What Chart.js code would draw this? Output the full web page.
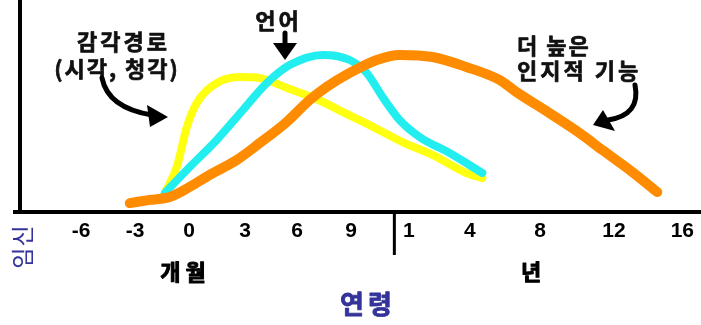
<!DOCTYPE html>
<html>
<head>
<meta charset="utf-8">
<script src="https://cdn.jsdelivr.net/npm/chart.js@4"></script>
<style>
    html, body { margin: 0; padding: 0; background: #ffffff; }
    #wrap { width: 701px; height: 325px; }
</style>
</head>
<body>
<div id="wrap"><canvas id="devChart" width="701" height="325"></canvas></div>
<script>
// x axis is in "month-equivalent" units, years squeezed in after the divider
var tickPos = [-6, -3, 0, 3.1, 6, 9, 12.2, 15.6, 19.5, 23.6, 27.4];
var tickLabels = ['-6', '-3', '0', '3', '6', '9', '1', '4', '8', '12', '16'];
var dividerAt = 11.4;

// 감각경로 (시각, 청각)
var sensoryX = [-1.35, -0.69, -0.13, 0.42, 1.53, 2.81, 3.92, 5.58, 7.08, 8.52, 10.02, 11.85, 13.52, 15.4, 16.29];
var sensoryY = [9, 21.2, 40.1, 51.4, 60.8, 63.7, 63.2, 58, 53.3, 47.2, 41, 33, 26.9, 18.4, 16];

// 언어
var languageX = [-1.35, 0.03, 1.53, 2.98, 4.31, 5.58, 7.42, 8.92, 9.86, 10.75, 11.69, 12.8, 14.47, 16.29];
var languageY = [9, 21.2, 34, 48.1, 60.8, 69.3, 74.1, 71.7, 65.6, 54.2, 43.4, 35.4, 27.8, 18.4];

// 더 높은 인지적 기능
var cognitiveX = [-3.3, -2.19, -1.08, 0.03, 1.14, 2.64, 3.92, 5.42, 6.69, 7.64, 8.92, 10.42, 11.69, 13.52, 15.4, 17.24, 18.18, 20.01, 21.68, 22.96, 24.62, 26.01];
var cognitiveY = [4.2, 5.7, 7.1, 11.8, 17.5, 24.5, 32.5, 42.5, 52.8, 59, 65.6, 71.7, 74.1, 73.1, 68.4, 62.3, 56.6, 46.7, 37.3, 29.2, 18.9, 9.4];

function toPoints(xs, ys) {
    var pts = [];
    for (var i = 0; i < xs.length; i++) {
        pts.push({ x: xs[i], y: ys[i] });
    }
    return pts;
}

function lineSet(label, xs, ys, color, width) {
    return {
        label: label,
        data: toPoints(xs, ys),
        borderColor: color,
        borderWidth: width,
        borderCapStyle: 'round',
        borderJoinStyle: 'round',
        cubicInterpolationMode: 'monotone',
        pointRadius: 0,
        fill: false,
        clip: false
    };
}

var KR = '"Noto Sans CJK KR", "Noto Sans", sans-serif';

// heavy text: fill plus a thin stroke so it looks as dark as the scan
function drawText(ctx, text, x, y, font, color, spacing, align, heavy) {
    ctx.font = font;
    ctx.fillStyle = color;
    ctx.strokeStyle = color;
    ctx.letterSpacing = (spacing || 0) + 'px';
    ctx.textBaseline = 'middle';
    var w = ctx.measureText(text).width - (spacing || 0);
    var left = align === 'left' ? x : x - w / 2;
    ctx.textAlign = 'left';
    ctx.fillText(text, left, y);
    if (heavy) {
        ctx.lineWidth = heavy;
        ctx.lineJoin = 'round';
        ctx.strokeText(text, left, y);
    }
    ctx.letterSpacing = '0px';
}

function arrowHead(ctx, tip, b1, b2) {
    ctx.beginPath();
    ctx.moveTo(tip[0], tip[1]);
    ctx.lineTo(b1[0], b1[1]);
    ctx.lineTo(b2[0], b2[1]);
    ctx.closePath();
    ctx.fill();
}

var notesPlugin = {
    id: 'notes',
    afterDraw: function(chart) {
        var ctx = chart.ctx;
        var xs = chart.scales.x;
        var area = chart.chartArea;
        ctx.save();

        // little stub of the base line left of the y axis
        ctx.strokeStyle = '#000';
        ctx.lineWidth = 4;
        ctx.beginPath();
        ctx.moveTo(13, area.bottom);
        ctx.lineTo(area.left, area.bottom);
        ctx.stroke();

        // months / years divider
        var dx = xs.getPixelForValue(dividerAt);
        ctx.lineWidth = 3;
        ctx.beginPath();
        ctx.moveTo(dx, area.bottom + 1);
        ctx.lineTo(dx, 255);
        ctx.stroke();

        drawText(ctx, '개월', xs.getPixelForValue(-0.35), 272, 'bold 22px ' + KR, '#000', 5, null, 1);
        drawText(ctx, '년', xs.getPixelForValue(19.0), 272, 'bold 22px ' + KR, '#000', 0, null, 1);
        drawText(ctx, '연령', 366, 304, 'bold 26px ' + KR, '#333399', 4, null, 0.8);

        ctx.save();
        ctx.translate(22, 247);
        ctx.rotate(-Math.PI / 2);
        drawText(ctx, '임신', 0, 0, '23px ' + KR, '#333399', 1);
        ctx.restore();

        // annotations
        var f = 'bold 22px ' + KR;
        drawText(ctx, '감각경로', 122, 42, f, '#111', 3, null, 0.7);
        drawText(ctx, '(시각, 청각)', 116, 69, f, '#111', 2, null, 0.7);
        drawText(ctx, '언어', 277, 21, f, '#111', 3, null, 0.7);
        drawText(ctx, '더 높은', 517, 46, f, '#111', 2, 'left', 0.7);
        drawText(ctx, '인지적 기능', 517, 71, f, '#111', 3, 'left', 0.7);

        ctx.strokeStyle = '#000';
        ctx.fillStyle = '#000';
        ctx.lineWidth = 5;
        ctx.lineCap = 'round';

        ctx.beginPath();
        ctx.moveTo(285, 33);
        ctx.lineTo(285, 46);
        ctx.stroke();
        arrowHead(ctx, [285, 60], [273, 43], [297, 43]);

        ctx.beginPath();
        ctx.moveTo(102, 78);
        ctx.quadraticCurveTo(108, 108, 152, 115);
        ctx.stroke();
        arrowHead(ctx, [168, 117], [147, 105], [150, 127]);

        ctx.beginPath();
        ctx.moveTo(635, 85);
        ctx.quadraticCurveTo(641, 115, 608, 120);
        ctx.stroke();
        arrowHead(ctx, [593, 125], [603, 110], [615, 131]);

        ctx.restore();
    }
};

document.addEventListener('DOMContentLoaded', function() {
    var canvas = document.getElementById('devChart');
    new Chart(canvas.getContext('2d'), {
        type: 'line',
        data: {
            datasets: [
                lineSet('더 높은 인지적 기능', cognitiveX, cognitiveY, '#ff8c00', 10),
                lineSet('언어', languageX, languageY, '#22eef0', 8),
                lineSet('감각경로', sensoryX, sensoryY, '#ffff10', 8)
            ]
        },
        options: {
            responsive: false,
            animation: false,
            layout: { padding: 0 },
            plugins: {
                legend: { display: false },
                tooltip: { enabled: false }
            },
            scales: {
                x: {
                    type: 'linear',
                    min: -9.4,
                    max: 28.4,
                    afterBuildTicks: function(scale) {
                        scale.ticks = tickPos.map(function(v) { return { value: v }; });
                    },
                    afterFit: function(scale) { scale.height = 113; },
                    ticks: {
                        autoSkip: false,
                        maxRotation: 0,
                        padding: 7,
                        color: '#000',
                        font: { family: '"Liberation Sans", Arial, sans-serif', size: 21, weight: 'bold' },
                        callback: function(value, index) { return tickLabels[index]; }
                    },
                    grid: { drawOnChartArea: false, drawTicks: false },
                    border: { display: true, color: '#000', width: 4 }
                },
                y: {
                    min: 0,
                    max: 100,
                    afterFit: function(scale) { scale.width = 20; },
                    ticks: { display: false },
                    grid: { drawOnChartArea: false, drawTicks: false },
                    border: { display: true, color: '#000', width: 4 }
                }
            }
        },
        plugins: [notesPlugin]
    });
});
</script>
</body>
</html>
